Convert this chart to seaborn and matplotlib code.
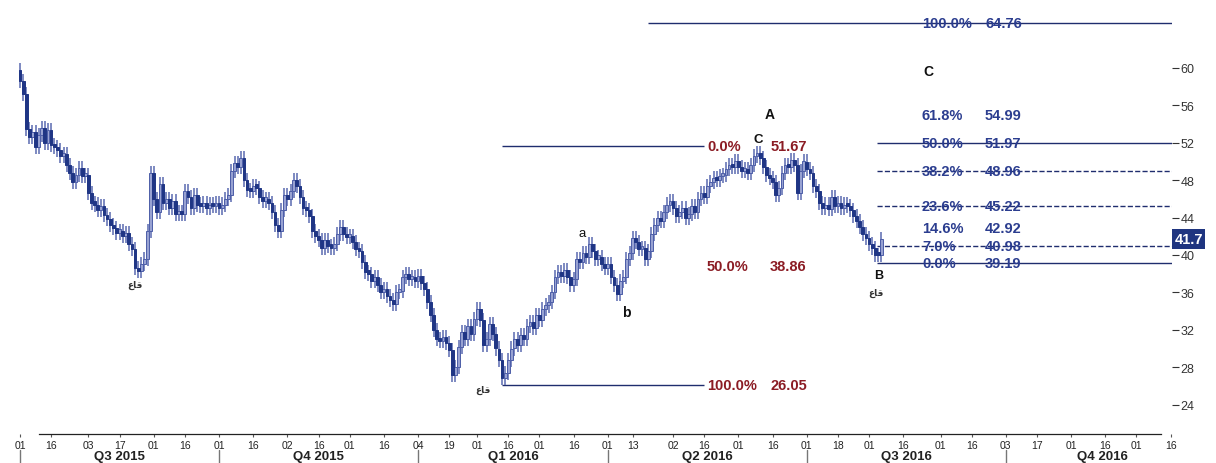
import numpy as np
import pandas as pd
import matplotlib
matplotlib.use("Agg")
import matplotlib.pyplot as plt
import matplotlib.transforms as mtransforms
import seaborn as sns

# daily closes, starting 2015-07-01
first_open = 59.8
closes = [
    58.6, 57.2, 53.5, 52.6, 53.2, 51.6, 52.8, 53.6, 52.0, 53.4,
    51.8, 51.5, 51.2, 50.6, 50.8, 49.6, 48.8, 47.8, 48.6, 49.3,
    48.4, 48.6, 46.6, 45.6, 45.4, 44.8, 45.2, 44.3, 43.9, 43.2,
    42.9, 42.4, 42.6, 42.0, 42.3, 41.2, 40.6, 38.6, 38.3, 39.0,
    39.6, 42.6, 48.8, 46.0, 44.6, 47.6, 45.6, 46.0, 45.0, 45.8,
    44.4, 44.6, 44.4, 46.8, 46.2, 45.0, 46.4, 45.4, 45.2, 45.6,
    45.0, 45.4, 45.2, 45.6, 45.0, 45.4, 46.0, 46.4, 49.0, 49.8,
    49.4, 50.4, 48.0, 47.0, 46.8, 47.4, 47.2, 46.2, 45.8, 46.0,
    45.6, 44.6, 43.2, 42.6, 44.8, 46.4, 46.0, 46.8, 48.0, 47.4,
    46.2, 45.0, 44.8, 44.2, 42.6, 42.0, 41.6, 40.8, 41.6, 41.0,
    40.8, 41.2, 42.2, 43.0, 42.2, 41.9, 42.0, 41.4, 40.6, 40.4,
    39.2, 38.2, 38.0, 37.2, 37.6, 36.8, 36.0, 36.4, 35.6, 35.2,
    34.8, 36.0, 36.2, 37.6, 38.0, 37.4, 37.6, 37.2, 37.8, 37.0,
    36.4, 35.0, 33.6, 32.0, 31.0, 30.8, 31.2, 30.6, 29.8, 27.2,
    28.0, 30.2, 31.8, 31.0, 32.4, 31.6, 33.2, 34.2, 33.0, 30.4,
    31.0, 32.6, 31.6, 30.0, 28.8, 26.8, 27.4, 28.8, 30.0, 31.0,
    30.4, 31.4, 31.0, 32.4, 32.8, 32.2, 33.6, 33.0, 34.2, 34.6,
    35.0, 36.0, 37.6, 38.2, 37.8, 38.4, 37.6, 36.8, 37.4, 39.6,
    39.2, 40.2, 39.8, 41.2, 40.4, 39.6, 39.8, 39.0, 38.6, 39.0,
    37.6, 36.8, 35.8, 37.2, 37.6, 39.6, 40.2, 41.8, 41.4, 40.6,
    40.8, 39.6, 40.4, 42.2, 43.2, 44.0, 43.6, 44.6, 45.4, 45.8,
    45.0, 44.2, 44.6, 45.0, 44.0, 44.4, 45.2, 44.6, 46.0, 46.6,
    46.2, 47.4, 47.8, 48.2, 48.0, 48.4, 48.6, 49.2, 49.6, 49.4,
    50.0, 49.4, 49.0, 49.2, 48.8, 49.6, 50.6, 50.9, 50.4, 49.4,
    48.6, 48.2, 47.8, 46.4, 47.2, 48.8, 49.6, 49.4, 50.2, 49.6,
    46.6, 49.0, 50.0, 49.2, 48.8, 47.4, 46.8, 45.6, 45.0, 45.4,
    44.9, 46.2, 45.2, 45.6, 45.0, 45.4, 45.2, 44.8, 44.2, 43.6,
    43.0, 42.2, 41.8, 41.2, 40.8, 40.0, 39.95, 41.7,
]

holidays = ["2015-07-03", "2015-09-07", "2015-11-26", "2015-12-25",
            "2016-01-01", "2016-01-18", "2016-02-15", "2016-03-25",
            "2016-05-30", "2016-07-04", "2016-09-05", "2016-11-24",
            "2016-12-26"]

tick_dates = ["2015-07-01", "2015-07-16", "2015-08-03", "2015-08-17",
              "2015-09-01", "2015-09-16", "2015-10-01", "2015-10-16",
              "2015-11-02", "2015-11-16", "2015-12-01", "2015-12-16",
              "2016-01-04", "2016-01-19", "2016-02-01", "2016-02-16",
              "2016-03-01", "2016-03-16", "2016-04-01", "2016-04-13",
              "2016-05-02", "2016-05-16", "2016-06-01", "2016-06-16",
              "2016-07-01", "2016-07-18", "2016-08-01", "2016-08-16",
              "2016-09-01", "2016-09-16", "2016-10-03", "2016-10-17",
              "2016-11-01", "2016-11-16", "2016-12-01", "2016-12-16"]

quarter_starts = ["2015-07-01", "2015-10-01", "2016-01-04",
                  "2016-04-01", "2016-07-01", "2016-10-03", "2016-12-30"]
quarter_names = ["Q3 2015", "Q4 2015", "Q1 2016", "Q2 2016", "Q3 2016", "Q4 2016"]

# fibonacci levels
left_levels = [51.67, 38.86, 26.05]
left_pcts = ["0.0%", "50.0%", "100.0%"]
left_lines = [True, False, True]
right_levels = [64.76, 54.99, 51.97, 48.96, 45.22, 42.92, 40.98, 39.19]
right_pcts = ["100.0%", "61.8%", "50.0%", "38.2%", "23.6%", "14.6%", "7.0%", "0.0%"]
right_lines = ["top", None, "-", "--", "--", None, "--", "-"]

wave_labels = [("A", 241, 55.1, 10, "bold"), ("C", 237.5, 52.4, 9.5, "bold"),
               ("a", 180.7, 42.3, 9.5, "normal"), ("b", 194.9, 33.9, 10, "bold"),
               ("B", 276, 37.9, 9, "bold"), ("C", 292, 59.7, 10, "bold")]
arabic_marks = [(37, 36.9), (275.2, 36.0), (149, 25.6)]

last_price = 41.7

# trading calendar -> integer positions
days = pd.bdate_range("2015-07-01", "2016-12-30", freq="C", holidays=holidays)
pos = {d: i for i, d in enumerate(days)}

df = pd.DataFrame({"close": closes})
df["open"] = df["close"].shift(1).fillna(first_open)
df["x"] = np.arange(len(df))
df["up"] = df["close"] >= df["open"]
df["lo"] = df[["open", "close"]].min(axis=1)
df["hi"] = df[["open", "close"]].max(axis=1)

sns.set_theme(style="white")
plt.rcParams["font.family"] = ["Liberation Sans", "DejaVu Sans"]

fig = plt.figure(figsize=(12.16, 4.64), dpi=100)
ax = fig.add_axes([14 / 1216, 29 / 464, 1158 / 1216, 435 / 464])

navy = "#1f3585"
light = "#98a2d2"
red = "#8b1c24"
blue = "#2b3d8f"

# candles
wick = 0.75
ax.vlines(df["x"], df["lo"] - wick, df["hi"] + wick, color="#5a69b0", lw=1.1, zorder=2)
heights = np.maximum(df["hi"] - df["lo"], 0.35)
up = df[df["up"]]
dn = df[~df["up"]]
ax.bar(up["x"], heights[df["up"]], bottom=up["lo"], width=0.9,
       color=light, edgecolor="#4d5ea8", linewidth=0.7, zorder=3)
ax.bar(dn["x"], heights[~df["up"]], bottom=dn["lo"], width=0.9,
       color=navy, edgecolor=navy, linewidth=0.7, zorder=3)

# left fib (A leg)
for lvl, pct, has_line in zip(left_levels, left_pcts, left_lines):
    if has_line:
        ax.hlines(lvl, 155, 220, color="#1f2d6e", lw=1, zorder=1)
    ax.text(220.9, lvl, pct, color=red, fontsize=10.5, fontweight="bold", va="center", ha="left")
    ax.text(241.2, lvl, f"{lvl:.2f}", color=red, fontsize=10.5, fontweight="bold", va="center", ha="left")

# right fib (C projection)
for lvl, pct, style in zip(right_levels, right_pcts, right_lines):
    if style == "top":
        ax.hlines(lvl, 202, 370.4, color="#1f2d6e", lw=1, zorder=1)
    elif style is not None:
        ax.hlines(lvl, 275.5, 370.4, color="#1f2d6e", lw=1, linestyles=style, zorder=1)
    ax.text(290, lvl, pct, color=blue, fontsize=10.5, fontweight="bold", va="center", ha="left", zorder=4)
    ax.text(310.3, lvl, f"{lvl:.2f}", color=blue, fontsize=10.5, fontweight="bold", va="center", ha="left", zorder=4)

for txt, x, y, fs, fw in wave_labels:
    ax.text(x, y, txt, color="#111111", fontsize=fs, fontweight=fw, ha="center", va="center", zorder=5)

# arabic "bottom" marks (presentation forms, visual order)
for x, y in arabic_marks:
    ax.text(x, y, "\ufec9\ufe8e\ufed7", color="#333333", fontsize=6.5, fontweight="bold",
            family=["DejaVu Sans"], ha="center", va="center")

# axes / ticks
ax.set_xlim((14 - 20) / 3.11, (1172 - 20) / 3.11)
ax.set_ylim(60 - 366 / 9.35, 60 + 69 / 9.35)
ax.yaxis.tick_right()
ax.set_yticks(np.arange(24, 61, 4))
ax.tick_params(axis="y", right=True, length=5, width=0.8, color="#333333",
               labelsize=9, labelcolor="#333333", pad=1)

tick_pos = [pos[pd.Timestamp(d)] for d in tick_dates]
ax.set_xticks(tick_pos)
ax.set_xticklabels([d[-2:] for d in tick_dates])
ax.tick_params(axis="x", bottom=True, length=2, width=0.8, color="#555555",
               labelsize=7.5, labelcolor="#222222", pad=2)

for s in ["top", "left", "right"]:
    ax.spines[s].set_visible(False)
ax.spines["bottom"].set_color("#222222")
ax.spines["bottom"].set_linewidth(0.9)
ax.spines["bottom"].set_bounds(6, 367)

trans = mtransforms.blended_transform_factory(ax.transData, ax.transAxes)
qpos = [pos[pd.Timestamp(d)] for d in quarter_starts]
for k, name in enumerate(quarter_names):
    ax.plot([qpos[k], qpos[k]], [-0.037, -0.068], color="#777777", lw=1,
            transform=trans, clip_on=False)
    ax.text((qpos[k] + qpos[k + 1]) / 2, -0.051, name, transform=trans,
            ha="center", va="center", fontsize=9.5, fontweight="bold", color="#222222")

# last price tag
ytrans = mtransforms.blended_transform_factory(ax.transAxes, ax.transData)
ax.text(1.002, last_price, f"{last_price:.1f}", transform=ytrans, ha="left", va="center",
        color="white", fontsize=10.5, fontweight="bold", clip_on=False, zorder=6,
        bbox=dict(boxstyle="square,pad=0.18", fc="#1f3580", ec="none"))

ax.grid(False)
fig.savefig("out.png", dpi=100)
